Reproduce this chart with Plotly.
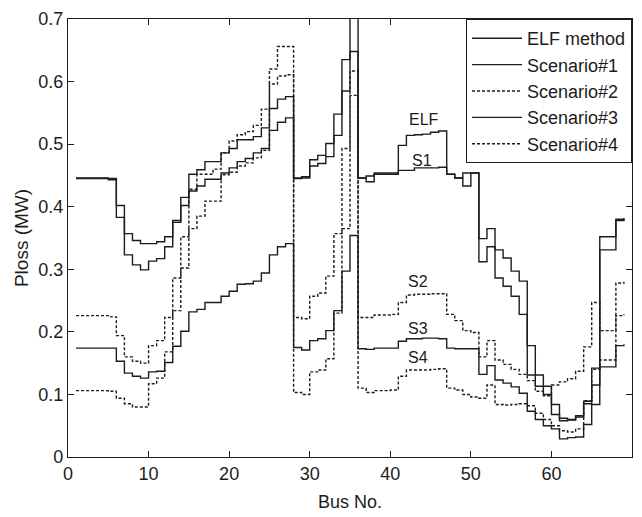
import plotly.graph_objects as go

# ---------------- data ----------------
bus = list(range(1, 70))

elf_method = [0.446, 0.446, 0.446, 0.446, 0.443, 0.402, 0.357, 0.346, 0.341, 0.341,
              0.344, 0.352, 0.378, 0.415, 0.452, 0.459, 0.472, 0.472, 0.486, 0.493,
              0.507, 0.507, 0.512, 0.526, 0.557, 0.572, 0.576, 0.446, 0.448, 0.475,
              0.482, 0.501, 0.548, 0.635, 0.750, 0.446, 0.449, 0.454, 0.454, 0.454,
              0.498, 0.514, 0.515, 0.516, 0.519, 0.521, 0.452, 0.446, 0.454, 0.454,
              0.349, 0.365, 0.331, 0.318, 0.297, 0.281, 0.178, 0.131, 0.113, 0.084,
              0.062, 0.060, 0.066, 0.089, 0.142, 0.352, 0.352, 0.380, 0.382]

scenario1 = [0.445, 0.445, 0.445, 0.445, 0.445, 0.383, 0.323, 0.307, 0.299, 0.313,
             0.317, 0.336, 0.375, 0.402, 0.425, 0.433, 0.444, 0.444, 0.454, 0.462,
             0.472, 0.477, 0.486, 0.493, 0.522, 0.535, 0.542, 0.445, 0.446, 0.465,
             0.469, 0.480, 0.514, 0.585, 0.648, 0.446, 0.440, 0.452, 0.452, 0.452,
             0.458, 0.458, 0.462, 0.462, 0.462, 0.463, 0.452, 0.446, 0.433, 0.454,
             0.312, 0.336, 0.286, 0.273, 0.257, 0.228, 0.131, 0.113, 0.100, 0.068,
             0.058, 0.059, 0.064, 0.085, 0.115, 0.331, 0.331, 0.378, 0.380]

scenario2 = [0.226, 0.226, 0.226, 0.226, 0.224, 0.194, 0.160, 0.153, 0.150, 0.178,
             0.186, 0.223, 0.286, 0.352, 0.428, 0.452, 0.452, 0.460, 0.486, 0.505,
             0.515, 0.520, 0.530, 0.556, 0.620, 0.656, 0.656, 0.223, 0.221, 0.257,
             0.262, 0.289, 0.357, 0.493, 0.617, 0.223, 0.223, 0.227, 0.227, 0.228,
             0.247, 0.259, 0.260, 0.260, 0.261, 0.261, 0.228, 0.218, 0.202, 0.199,
             0.160, 0.186, 0.155, 0.148, 0.140, 0.132, 0.122, 0.105, 0.098, 0.115,
             0.120, 0.125, 0.137, 0.176, 0.247, 0.202, 0.202, 0.278, 0.280]

scenario3 = [0.174, 0.174, 0.174, 0.174, 0.174, 0.153, 0.134, 0.129, 0.126, 0.136,
             0.137, 0.151, 0.177, 0.201, 0.232, 0.236, 0.247, 0.247, 0.257, 0.265,
             0.276, 0.277, 0.281, 0.294, 0.323, 0.336, 0.341, 0.175, 0.171, 0.186,
             0.189, 0.202, 0.234, 0.297, 0.354, 0.173, 0.172, 0.174, 0.174, 0.174,
             0.185, 0.189, 0.189, 0.190, 0.190, 0.189, 0.174, 0.173, 0.173, 0.173,
             0.132, 0.146, 0.123, 0.118, 0.112, 0.102, 0.073, 0.060, 0.050, 0.045,
             0.029, 0.031, 0.032, 0.052, 0.084, 0.144, 0.144, 0.178, 0.180]

scenario4 = [0.106, 0.106, 0.106, 0.106, 0.105, 0.094, 0.085, 0.080, 0.080, 0.117,
             0.126, 0.168, 0.234, 0.302, 0.365, 0.385, 0.409, 0.409, 0.451, 0.455,
             0.465, 0.470, 0.478, 0.490, 0.596, 0.609, 0.611, 0.103, 0.100, 0.136,
             0.139, 0.157, 0.230, 0.365, 0.578, 0.110, 0.103, 0.106, 0.106, 0.107,
             0.129, 0.139, 0.139, 0.139, 0.140, 0.141, 0.110, 0.107, 0.100, 0.096,
             0.094, 0.115, 0.084, 0.083, 0.084, 0.085, 0.082, 0.070, 0.060, 0.050,
             0.042, 0.040, 0.045, 0.090, 0.140, 0.155, 0.155, 0.226, 0.228]

series_names = ["ELF method", "Scenario#1", "Scenario#2", "Scenario#3", "Scenario#4"]
series_values = [elf_method, scenario1, scenario2, scenario3, scenario4]
series_dash = ["solid", "solid", "3px,2px", "solid", "3px,2px"]

label_texts = ["ELF", "S1", "S2", "S3", "S4"]
label_x = [44.2, 43.9, 43.5, 43.5, 43.5]
label_y = [0.540, 0.474, 0.281, 0.206, 0.159]

x_ticks = [0, 10, 20, 30, 40, 50, 60, 70]
y_ticks = [0, 0.1, 0.2, 0.3, 0.4, 0.5, 0.6, 0.7]

# ---------------- figure ----------------
FONT = "Liberation Sans, Arial, sans-serif"
INK = "#1c1c1c"

fig = go.Figure()
for name, vals, dash in zip(series_names, series_values, series_dash):
    fig.add_trace(go.Scatter(
        x=bus, y=vals, mode="lines", name=name,
        line=dict(shape="hv", color=INK, width=1.4, dash=dash),
    ))

for t, x, y in zip(label_texts, label_x, label_y):
    fig.add_annotation(x=x, y=y, text=t, showarrow=False,
                       font=dict(family=FONT, size=16, color=INK))

axis_common = dict(
    showline=True, linecolor=INK, linewidth=1.2, mirror="ticks",
    ticks="inside", ticklen=6, tickcolor=INK, tickwidth=1,
    showgrid=False, zeroline=False,
    tickfont=dict(family=FONT, size=18, color=INK),
)

fig.update_layout(
    width=642, height=517,
    margin=dict(l=68, r=9, t=16, b=57),
    paper_bgcolor="white", plot_bgcolor="white",
    font=dict(family=FONT, color=INK),
    xaxis=dict(range=[0, 70], tickvals=x_ticks,
               title=dict(text="Bus No.", font=dict(family=FONT, size=18, color=INK), standoff=12),
               **axis_common),
    yaxis=dict(range=[0, 0.7], tickvals=y_ticks,
               title=dict(text="Ploss (MW)", font=dict(family=FONT, size=19, color=INK), standoff=4),
               **axis_common),
    legend=dict(x=1, y=1, xanchor="right", yanchor="top",
                bgcolor="white", bordercolor=INK, borderwidth=1,
                font=dict(family=FONT, size=18, color=INK),
                itemwidth=50, tracegroupgap=0),
    showlegend=True,
)

fig.write_html("out.html")
